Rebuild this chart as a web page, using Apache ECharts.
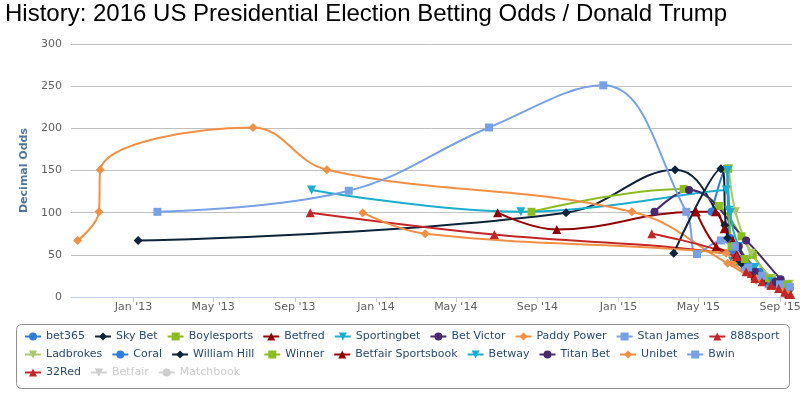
<!DOCTYPE html>
<html>
<head>
<meta charset="utf-8">
<script src="https://cdn.jsdelivr.net/npm/echarts@6/dist/echarts.min.js"></script>
<style>
  html, body { margin: 0; padding: 0; background: #fff; }
  #main { width: 806px; height: 397px; }
</style>
</head>
<body>
<div id="main"></div>
<script>
// odds per bookmaker, [date, decimal odds]
var bet365 = [['2015-05-21',101],['2015-06-11',152],['2015-06-18',70],['2015-07-05',45],['2015-08-01',30],['2015-09-10',8]];
var skyBet = [['2013-01-08',67],['2014-10-14',100],['2015-03-27',151],['2015-06-10',85],['2015-06-28',45],['2015-07-25',28],['2015-09-08',6]];
var boylesports = [['2014-08-23',101],['2015-04-09',128],['2015-06-01',108],['2015-07-05',72],['2015-07-22',50],['2015-08-20',22],['2015-09-15',12]];
var betfred = [['2014-07-03',100],['2014-09-30',80],['2015-04-27',101],['2015-05-27',101],['2015-06-09',81],['2015-06-22',67],['2015-07-15',40],['2015-08-10',20],['2015-09-14',4]];
var sportingbet = [['2013-09-26',127],['2014-08-07',101],['2015-06-12',127],['2015-06-16',103],['2015-06-22',42],['2015-07-20',35],['2015-08-15',18],['2015-09-14',10]];
var betVictor = [['2015-02-24',101],['2015-04-17',127],['2015-07-12',67],['2015-09-02',21],['2015-09-15',12]];
var paddyPower = [['2012-10-09',67],['2012-11-10',101],['2012-11-12',151],['2013-06-30',201],['2013-10-19',151],['2015-01-21',101],['2015-06-14',40],['2015-07-27',20],['2015-09-05',8]];
var stanJames = [['2013-02-06',101],['2013-11-21',126],['2014-06-20',201],['2014-12-09',251],['2015-04-13',101],['2015-04-29',51],['2015-06-04',67],['2015-07-10',35],['2015-08-15',15],['2015-09-15',12]];
var sport888 = [['2013-09-24',100],['2014-06-28',74],['2015-06-25',50],['2015-07-20',28],['2015-08-20',14],['2015-09-15',3]];
var ladbrokes = [['2015-06-16',152],['2015-06-26',101],['2015-07-20',52],['2015-08-20',22],['2015-09-15',15]];
var coral = [['2015-06-14',152],['2015-06-20',55],['2015-07-15',38],['2015-08-15',18],['2015-09-15',10]];
var williamHill = [['2015-03-25',52],['2015-06-04',152],['2015-06-14',70],['2015-07-05',40],['2015-08-10',20],['2015-09-12',6]];
var winner = [['2015-06-15',152],['2015-06-20',60],['2015-07-10',45],['2015-08-15',22],['2015-09-12',15]];
var betfairSportsbook = [['2015-04-28',101],['2015-05-28',60],['2015-06-28',50],['2015-07-25',25],['2015-09-10',6]];
var betway = [['2015-06-14',150],['2015-06-18',100],['2015-07-01',60],['2015-07-25',35],['2015-08-20',18],['2015-09-15',10]];
var titanBet = [['2015-07-01',60],['2015-07-25',30],['2015-08-25',18],['2015-09-15',10]];
var unibet = [['2013-12-12',100],['2014-03-16',75],['2015-06-12',52],['2015-06-22',40],['2015-07-28',22],['2015-09-10',6]];
var bwin = [['2015-06-25',60],['2015-07-15',35],['2015-08-05',25],['2015-09-01',15],['2015-09-15',12]];
var red32 = [['2015-02-20',75],['2015-06-28',48],['2015-07-12',30],['2015-07-25',22],['2015-08-05',18],['2015-08-18',14],['2015-08-30',10],['2015-09-08',6],['2015-09-17',3]];
var betfair = [];
var matchbook = [];

var tickDates = ['2013-01-01','2013-05-01','2013-09-01','2014-01-01','2014-05-01','2014-09-01','2015-01-01','2015-05-01','2015-09-01'];
var monthNames = ['Jan','Feb','Mar','Apr','May','Jun','Jul','Aug','Sep','Oct','Nov','Dec'];

var row1 = ['bet365','Sky Bet','Boylesports','Betfred','Sportingbet','Bet Victor','Paddy Power','Stan James','888sport'];
var row2 = ['Ladbrokes','Coral','William Hill','Winner','Betfair Sportsbook','Betway','Titan Bet','Unibet','Bwin'];
var row3 = ['32Red','Betfair','Matchbook'];

function toTime(s){
    var p = s.split('-');
    return new Date(+p[0], +p[1]-1, +p[2]).getTime();
}

var colors = ['#2f7ed8','#0d233a','#8bbc21','#910000','#1aadce','#492970','#f28f43','#77a1e5','#c42525','#a6c96a'];
var triDown = 'path://M0,0 L10,0 L5,9 Z';
var symbols = ['circle','diamond','rect','triangle',triDown];

var seriesList = [
    ['bet365', bet365], ['Sky Bet', skyBet], ['Boylesports', boylesports], ['Betfred', betfred],
    ['Sportingbet', sportingbet], ['Bet Victor', betVictor], ['Paddy Power', paddyPower],
    ['Stan James', stanJames], ['888sport', sport888], ['Ladbrokes', ladbrokes], ['Coral', coral],
    ['William Hill', williamHill], ['Winner', winner], ['Betfair Sportsbook', betfairSportsbook],
    ['Betway', betway], ['Titan Bet', titanBet], ['Unibet', unibet], ['Bwin', bwin],
    ['32Red', red32], ['Betfair', betfair], ['Matchbook', matchbook]
];

var series = seriesList.map(function(s, i){
    var sym = symbols[i % 5];
    return {
        name: s[0],
        type: 'line',
        smooth: 0.4,
        data: s[1].map(function(d){ return [toTime(d[0]), d[1]]; }),
        symbol: sym,
        symbolSize: sym === 'rect' ? 8 : (sym === 'circle' ? 8 : 9),
        showAllSymbol: true,
        color: colors[i % 10],
        lineStyle: { width: 2 },
        itemStyle: { color: colors[i % 10] }
    };
});

var legendBase = {
    orient: 'horizontal',
    left: 24,
    padding: 0,
    itemGap: 9,
    itemWidth: 16,
    itemHeight: 10,
    inactiveColor: '#ccc',
    textStyle: { color: '#274b6d', fontSize: 11, fontFamily: 'DejaVu Sans' }
};

var myChart = echarts.init(document.getElementById('main'));
var option = {
    animation: false,
    backgroundColor: '#fff',
    title: {
        text: 'History: 2016 US Presidential Election Betting Odds / Donald Trump',
        left: 5,
        top: 2,
        padding: 0,
        textStyle: { color: '#000', fontSize: 24, fontWeight: 'normal', fontFamily: 'Liberation Sans' }
    },
    legend: [
        Object.assign({}, legendBase, { top: 331, data: row1 }),
        Object.assign({}, legendBase, { top: 349, data: row2 }),
        Object.assign({}, legendBase, { top: 367, data: row3, selected: { 'Betfair': false, 'Matchbook': false } })
    ],
    graphic: [{
        type: 'rect',
        shape: { x: 16.5, y: 324.5, width: 773, height: 64, r: 5 },
        style: { fill: 'none', stroke: '#909090', lineWidth: 1 },
        silent: true
    }],
    grid: { left: 71, right: 14, top: 44, bottom: 100 },
    xAxis: {
        type: 'value',
        min: toTime('2012-09-29'),
        max: toTime('2015-09-19'),
        axisLine: { lineStyle: { color: '#C0D0E0' } },
        axisTick: {
            show: true,
            length: 5,
            lineStyle: { color: '#C0D0E0' },
            customValues: tickDates.map(toTime)
        },
        axisLabel: {
            color: '#606060',
            fontSize: 11,
            fontFamily: 'DejaVu Sans',
            margin: 5,
            customValues: tickDates.map(toTime),
            formatter: function(value){
                var d = new Date(value);
                return monthNames[d.getMonth()] + " '" + String(d.getFullYear()).slice(2);
            }
        },
        splitLine: { show: false }
    },
    yAxis: {
        type: 'value',
        min: 0,
        max: 300,
        interval: 50,
        name: 'Decimal Odds',
        nameLocation: 'middle',
        nameGap: 32,
        nameTextStyle: { color: '#4d759e', fontWeight: 'bold', fontSize: 11, fontFamily: 'DejaVu Sans' },
        axisLine: { show: false },
        axisTick: { show: false },
        axisLabel: { color: '#606060', fontSize: 11, fontFamily: 'DejaVu Sans', margin: 9 },
        splitLine: { lineStyle: { color: '#C0C0C0' } }
    },
    series: series
};
myChart.setOption(option, true);
</script>
</body>
</html>
